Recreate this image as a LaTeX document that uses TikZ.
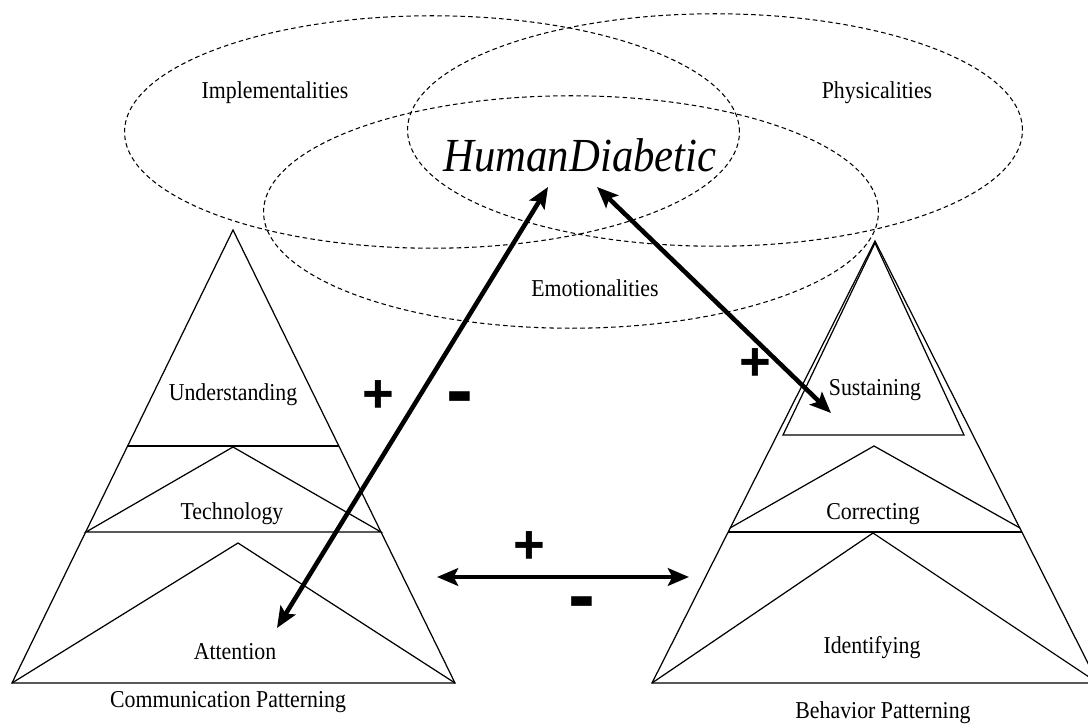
\documentclass[tikz,border=0pt]{standalone}
\usepackage{fontspec}
\setmainfont[FakeStretch=0.9]{Liberation Serif}
\setsansfont{Liberation Sans}
\usetikzlibrary{shapes.geometric,arrows.meta}

\begin{document}
\begin{tikzpicture}[x=0.02cm,y=-0.02cm]
    \tikzstyle{venn}=[draw,ellipse,dash pattern=on 2.6pt off 1.8pt,line width=0.6pt,minimum width=12.3cm,minimum height=4.65cm,inner sep=0pt]
    \tikzstyle{word}=[font=\fontsize{13.8}{16}\selectfont,inner sep=1pt]
    \tikzstyle{plussign}=[font=\sffamily\bfseries\fontsize{31}{31}\selectfont,inner sep=0pt]
    \tikzstyle{minussign}=[font=\sffamily\bfseries\fontsize{46}{46}\selectfont,inner sep=0pt]
    \tikzstyle{layer}=[line width=0.7pt,line join=miter]
    \tikzstyle{link}=[line width=2.6pt,{Stealth[length=12pt,width=10pt,inset=2.5pt]}-{Stealth[length=12pt,width=10pt,inset=2.5pt]}]

    \useasboundingbox (0,0) rectangle (1088,726);
    \clip (0,0) rectangle (1088,726);

    \node[venn] at (432,132) (impl) {};
    \node[venn] at (715,130) (phys) {};
    \node[venn] at (571,212) (emot) {};

    \node[word] at (275,93) (implementalities) {Implementalities};
    \node[word] at (877,93) (physicalities) {Physicalities};
    \node[word] at (595,288) (emotionalities) {Emotionalities};
    \node[font=\itshape\fontsize{27}{30}\selectfont] at (580,155) (human) {HumanDiabetic};

    \draw[layer] (233,230) -- (12,683) -- (455,683) -- cycle;
    \draw[layer] (127,446) -- (339,446);
    \draw[layer] (86,532) -- (233,447) -- (381,532) -- cycle;
    \draw[layer] (12,683) -- (238,543) -- (455,683);
    \node[word] at (233,395) (understanding) {Understanding};
    \node[word] at (232,514) (technology) {Technology};
    \node[word] at (235,652) (attention) {Attention};
    \node[word] at (228,702) (communication) {Communication Patterning};

    \draw[layer] (875,241) -- (652,683) -- (1098,683) -- cycle;
    \draw[layer] (875,243) -- (783,435) -- (964,435) -- cycle;
    \draw[layer] (730,528) -- (874,446) -- (1020,528);
    \draw[layer] (728,532) -- (1022,532);
    \draw[layer] (652,683) -- (873,533) -- (1098,683);
    \node[word] at (875,390) (sustaining) {Sustaining};
    \node[word] at (873,514) (correcting) {Correcting};
    \node[word] at (872,648) (identifying) {Identifying};
    \node[word] at (883,713) (behavior) {Behavior Patterning};

    \coordinate (att-end) at (277,628);
    \coordinate (hd-left) at (548,187);
    \coordinate (hd-right) at (597,187);
    \coordinate (sus-end) at (831,413);
    \coordinate (cp-end) at (437,577);
    \coordinate (bp-end) at (689,577);

    \draw[link] (att-end) -- (hd-left);
    \draw[link] (hd-right) -- (sus-end);
    \draw[link] (cp-end) -- (bp-end);

    \node[plussign] at (378,397) (plus1) {+};
    \node[minussign] at (460,405) (minus1) {-};
    \node[plussign] at (755,365) (plus2) {+};
    \node[plussign] at (529,548) (plus3) {+};
    \node[minussign] at (582,610) (minus3) {-};
\end{tikzpicture}
\end{document}
